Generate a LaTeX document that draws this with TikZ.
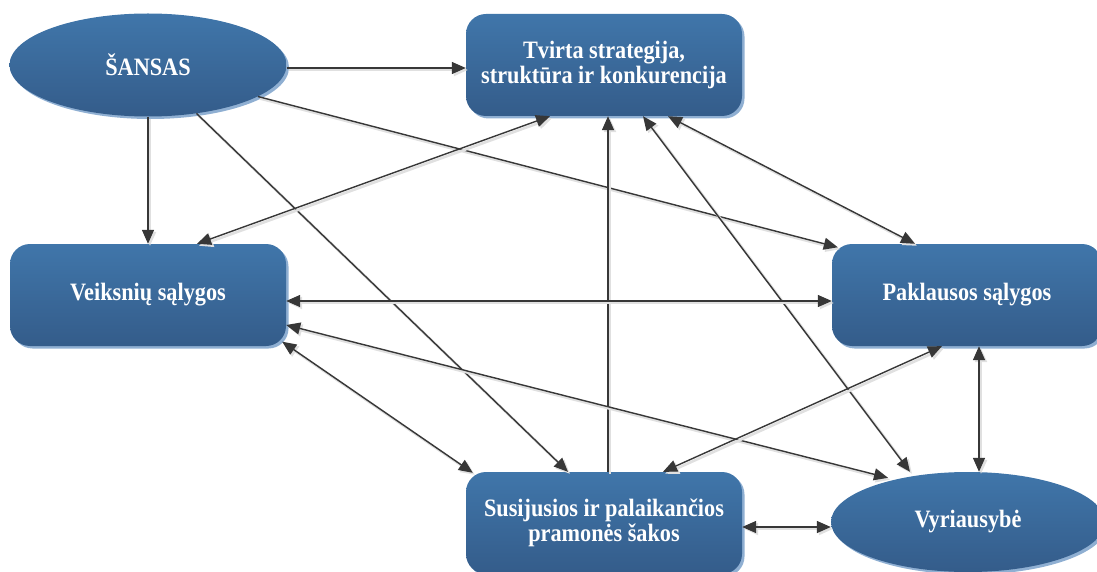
\documentclass[tikz,border=0pt]{standalone}
\usepackage{fontspec}
\setmainfont{Liberation Serif}
\newfontfamily\lblfont[FakeStretch=0.89]{Liberation Serif}
\usetikzlibrary{arrows.meta,shapes.geometric}
\definecolor{boxtop}{RGB}{64,118,170}
\definecolor{boxbot}{RGB}{52,92,138}
\definecolor{rim}{RGB}{143,175,210}
\definecolor{arr}{RGB}{55,55,55}
\tikzset{
 blob/.style={top color=boxtop,bottom color=boxbot,draw=none,text=white,
   font=\lblfont\fontsize{25}{25.5}\selectfont\bfseries,align=center,
   preaction={fill=rim,transform canvas={shift={(2.5pt,-2.5pt)}}}},
 rbox/.style={blob,rectangle,rounded corners=20pt,minimum width=276pt,minimum height=102pt,inner sep=0pt},
 ell/.style={blob,ellipse,minimum width=277pt,minimum height=103pt,inner sep=0pt},
 con/.style={draw=arr,line width=1.4pt,-{Triangle[length=14pt,width=12pt]},
   preaction={draw=black!12,line width=2.6pt,transform canvas={shift={(2pt,-2pt)}}}},
 bi/.style={con,{Triangle[length=14pt,width=12pt]}-{Triangle[length=14pt,width=12pt]}},
}
\begin{document}
\begin{tikzpicture}[x=1pt,y=-1pt]
\useasboundingbox (0,0) rectangle (1097,572);
\node[ell] (sansas) at (148,65) {ŠANSAS};
\node[rbox] (tvirta) at (604,65) {Tvirta strategija,\\struktūra ir konkurencija};
\node[rbox] (veiksniu) at (148,295) {Veiksnių sąlygos};
\node[rbox,minimum width=270pt] (paklausos) at (967,295) {Paklausos sąlygos};
\node[rbox] (susijusios) at (604,523) {Susijusios ir palaikančios\\pramonės šakos};
\node[ell,minimum width=274pt,minimum height=100pt] (vyriausybe) at (968,522) {Vyriausybė};

\draw[con] ([yshift=-3pt]sansas.east) -- ([yshift=-3pt]tvirta.west);
\draw[con] (sansas.south) -- (veiksniu.north);
\draw[con] (sansas.-16) -- ([xshift=6pt,yshift=-3.5pt]paklausos.north west);
\draw[con] (sansas.-45.6) -- ([xshift=-36pt]susijusios.north);
\draw[bi] ([xshift=-54pt]tvirta.south) -- ([xshift=49pt]veiksniu.north);
\draw[con] ([xshift=4pt]susijusios.north) -- ([xshift=4pt]tvirta.south);
\draw[bi] ([xshift=64pt]tvirta.south) -- ([xshift=-52pt]paklausos.north);
\draw[bi] ([xshift=39pt]tvirta.south) -- ([xshift=-58pt]vyriausybe.north);
\draw[bi] ([yshift=-6pt]veiksniu.east) -- ([yshift=-6pt]paklausos.west);
\draw[bi] ([yshift=-30pt]veiksniu.east) -- ([xshift=-80pt,yshift=-6pt]vyriausybe.north);
\draw[bi] ([xshift=-4pt,yshift=4.5pt]veiksniu.south east) -- ([xshift=7pt,yshift=-1pt]susijusios.north west);
\draw[bi] ([xshift=-25pt]paklausos.south) -- ([xshift=59pt]susijusios.north);
\draw[bi] ([xshift=12pt]paklausos.south) -- ([xshift=11pt]vyriausybe.north);
\draw[bi] ([yshift=-4pt]susijusios.east) -- ([yshift=-5pt]vyriausybe.west);
\end{tikzpicture}
\end{document}
